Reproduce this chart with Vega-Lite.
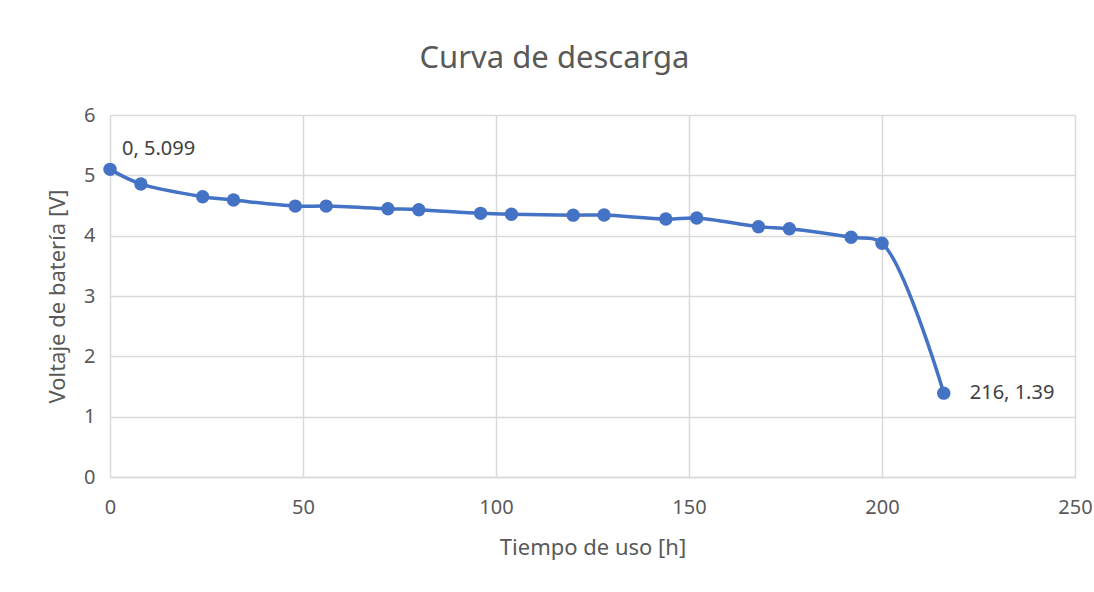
{
  "$schema": "https://vega.github.io/schema/vega-lite/v6.json",
  "width": 965,
  "height": 362,
  "autosize": "none",
  "padding": {"left": 110, "top": 115, "right": 19, "bottom": 115},
  "background": "white",
  "config": {"view": {"stroke": null}, "font": "Noto Sans"},
  "title": {"text": "Curva de descarga", "fontSize": 31, "font": "Noto Sans", "fontWeight": "normal", "color": "#595959", "anchor": "middle", "dx": -38, "offset": 30},
  "data": {"values": [
    {"t": 0, "v": 5.099},
    {"t": 8, "v": 4.857},
    {"t": 24, "v": 4.646},
    {"t": 32, "v": 4.59},
    {"t": 48, "v": 4.49},
    {"t": 56, "v": 4.49},
    {"t": 72, "v": 4.447},
    {"t": 80, "v": 4.43},
    {"t": 96, "v": 4.37},
    {"t": 104, "v": 4.354},
    {"t": 120, "v": 4.34},
    {"t": 128, "v": 4.343},
    {"t": 144, "v": 4.277},
    {"t": 152, "v": 4.293},
    {"t": 168, "v": 4.149},
    {"t": 176, "v": 4.116},
    {"t": 192, "v": 3.973},
    {"t": 200, "v": 3.873},
    {"t": 216, "v": 1.39}
  ]},
  "encoding": {
    "x": {"field": "t", "type": "quantitative", "scale": {"domain": [0, 250], "nice": false},
      "axis": {"values": [0, 50, 100, 150, 200, 250], "title": "Tiempo de uso [h]", "ticks": false, "labelFlush": false, "domainColor": "#d9d9d9", "domainWidth": 1.5, "gridColor": "#d9d9d9", "gridWidth": 1.5, "labelFontSize": 20, "labelColor": "#595959", "labelPadding": 20, "titleFontSize": 22, "titleFontWeight": "normal", "titleColor": "#595959", "titlePadding": 20}},
    "y": {"field": "v", "type": "quantitative", "scale": {"domain": [0, 6], "nice": false},
      "axis": {"values": [0, 1, 2, 3, 4, 5, 6], "title": "Voltaje de batería [V]", "ticks": false, "domain": false, "gridColor": "#d9d9d9", "gridWidth": 1.5, "labelFontSize": 20, "labelColor": "#595959", "labelPadding": 15, "titleFontSize": 22, "titleFontWeight": "normal", "titleColor": "#595959", "titlePadding": 14}}
  },
  "layer": [
    {"mark": {"type": "line", "interpolate": "catmull-rom", "color": "#4472C4", "strokeWidth": 3.5}},
    {"mark": {"type": "point", "filled": true, "size": 180, "color": "#4472C4", "opacity": 1}},
    {"transform": [{"filter": "datum.t == 0"}],
     "mark": {"type": "text", "align": "left", "baseline": "middle", "dx": 12, "dy": -20, "fontSize": 20, "color": "#404040"},
     "encoding": {"text": {"value": "0, 5.099"}}},
    {"transform": [{"filter": "datum.t == 216"}],
     "mark": {"type": "text", "align": "left", "baseline": "middle", "dx": 26, "dy": 0, "fontSize": 20, "color": "#404040"},
     "encoding": {"text": {"value": "216, 1.39"}}}
  ]
}
